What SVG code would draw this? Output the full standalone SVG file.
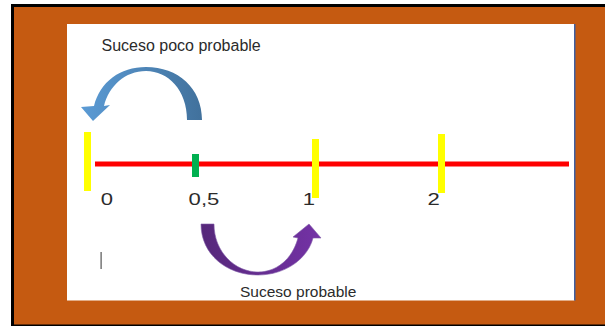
<svg xmlns="http://www.w3.org/2000/svg" width="605" height="326" viewBox="0 0 605 326">
<defs>
<style>
.lbl{font-family:"Liberation Sans",Arial,sans-serif;fill:#2b2b2b}
.tick{fill:#ffff00}
</style>
<linearGradient id="gBlue" x1="0" y1="0" x2="1" y2="0">
<stop offset="0" stop-color="#5b9bd5"/>
<stop offset="1" stop-color="#41719c"/>
</linearGradient>
<linearGradient id="gPurple" x1="0" y1="0" x2="1" y2="0">
<stop offset="0" stop-color="#56287a"/>
<stop offset="1" stop-color="#7432a6"/>
</linearGradient>
</defs>
<g id="frame">
<rect x="11" y="4" width="594" height="322" fill="#000"/>
<rect x="14" y="7" width="591" height="317.5" fill="#c55a11"/>
<rect x="67" y="24" width="507.5" height="276.5" fill="#ffffff"/>
<rect x="574" y="24" width="1.5" height="276.5" fill="#3f5f9f"/>
<rect x="100.5" y="252" width="1.2" height="17" fill="#555"/>
</g>
<g id="connectors">
<path id="arrow-poco" d="M202,120 C202,88 178,67 146,67 C120,67 100,82 94,106 L81,107 L93,121 L110,105 L104,106 C109,86 125,71 146,71 C168,71 187,90 187,120 Z" fill="url(#gBlue)"/>
<path id="arrow-probable" d="M201,224 C201,254 226,275 258,275 C286,275 308,258 313,238 L321,238 L309,224 L293,237 L298,238 C292,260 276,272 258,272 C235,272 214,252 214,224 Z" fill="url(#gPurple)" stroke="#7f5aa8" stroke-width="0.6"/>
</g>
<g id="axis">
<rect x="95" y="161.5" width="474" height="5" fill="#ff0000"/>
</g>
<g id="tick-0"><rect class="tick" x="84" y="132" width="7" height="59"/><text class="lbl" font-size="17" transform="translate(100.8,204.5) scale(1.3,1)">0</text></g>
<g id="tick-05"><rect x="192" y="154" width="7" height="23" fill="#00b050"/><text class="lbl" font-size="17" transform="translate(188.6,204.5) scale(1.3,1)">0,5</text></g>
<g id="tick-1"><rect class="tick" x="312" y="139" width="7" height="59"/><text class="lbl" font-size="17" transform="translate(302.8,204.5) scale(1.3,1)">1</text></g>
<g id="tick-2"><rect class="tick" x="438" y="134" width="7" height="59"/><text class="lbl" font-size="17" transform="translate(427.6,204.5) scale(1.3,1)">2</text></g>
<g id="label-poco"><text class="lbl" x="101.5" y="50.7" font-size="16">Suceso poco probable</text></g>
<g id="label-probable"><text class="lbl" x="240" y="297" font-size="15.5">Suceso probable</text></g>
</svg>
